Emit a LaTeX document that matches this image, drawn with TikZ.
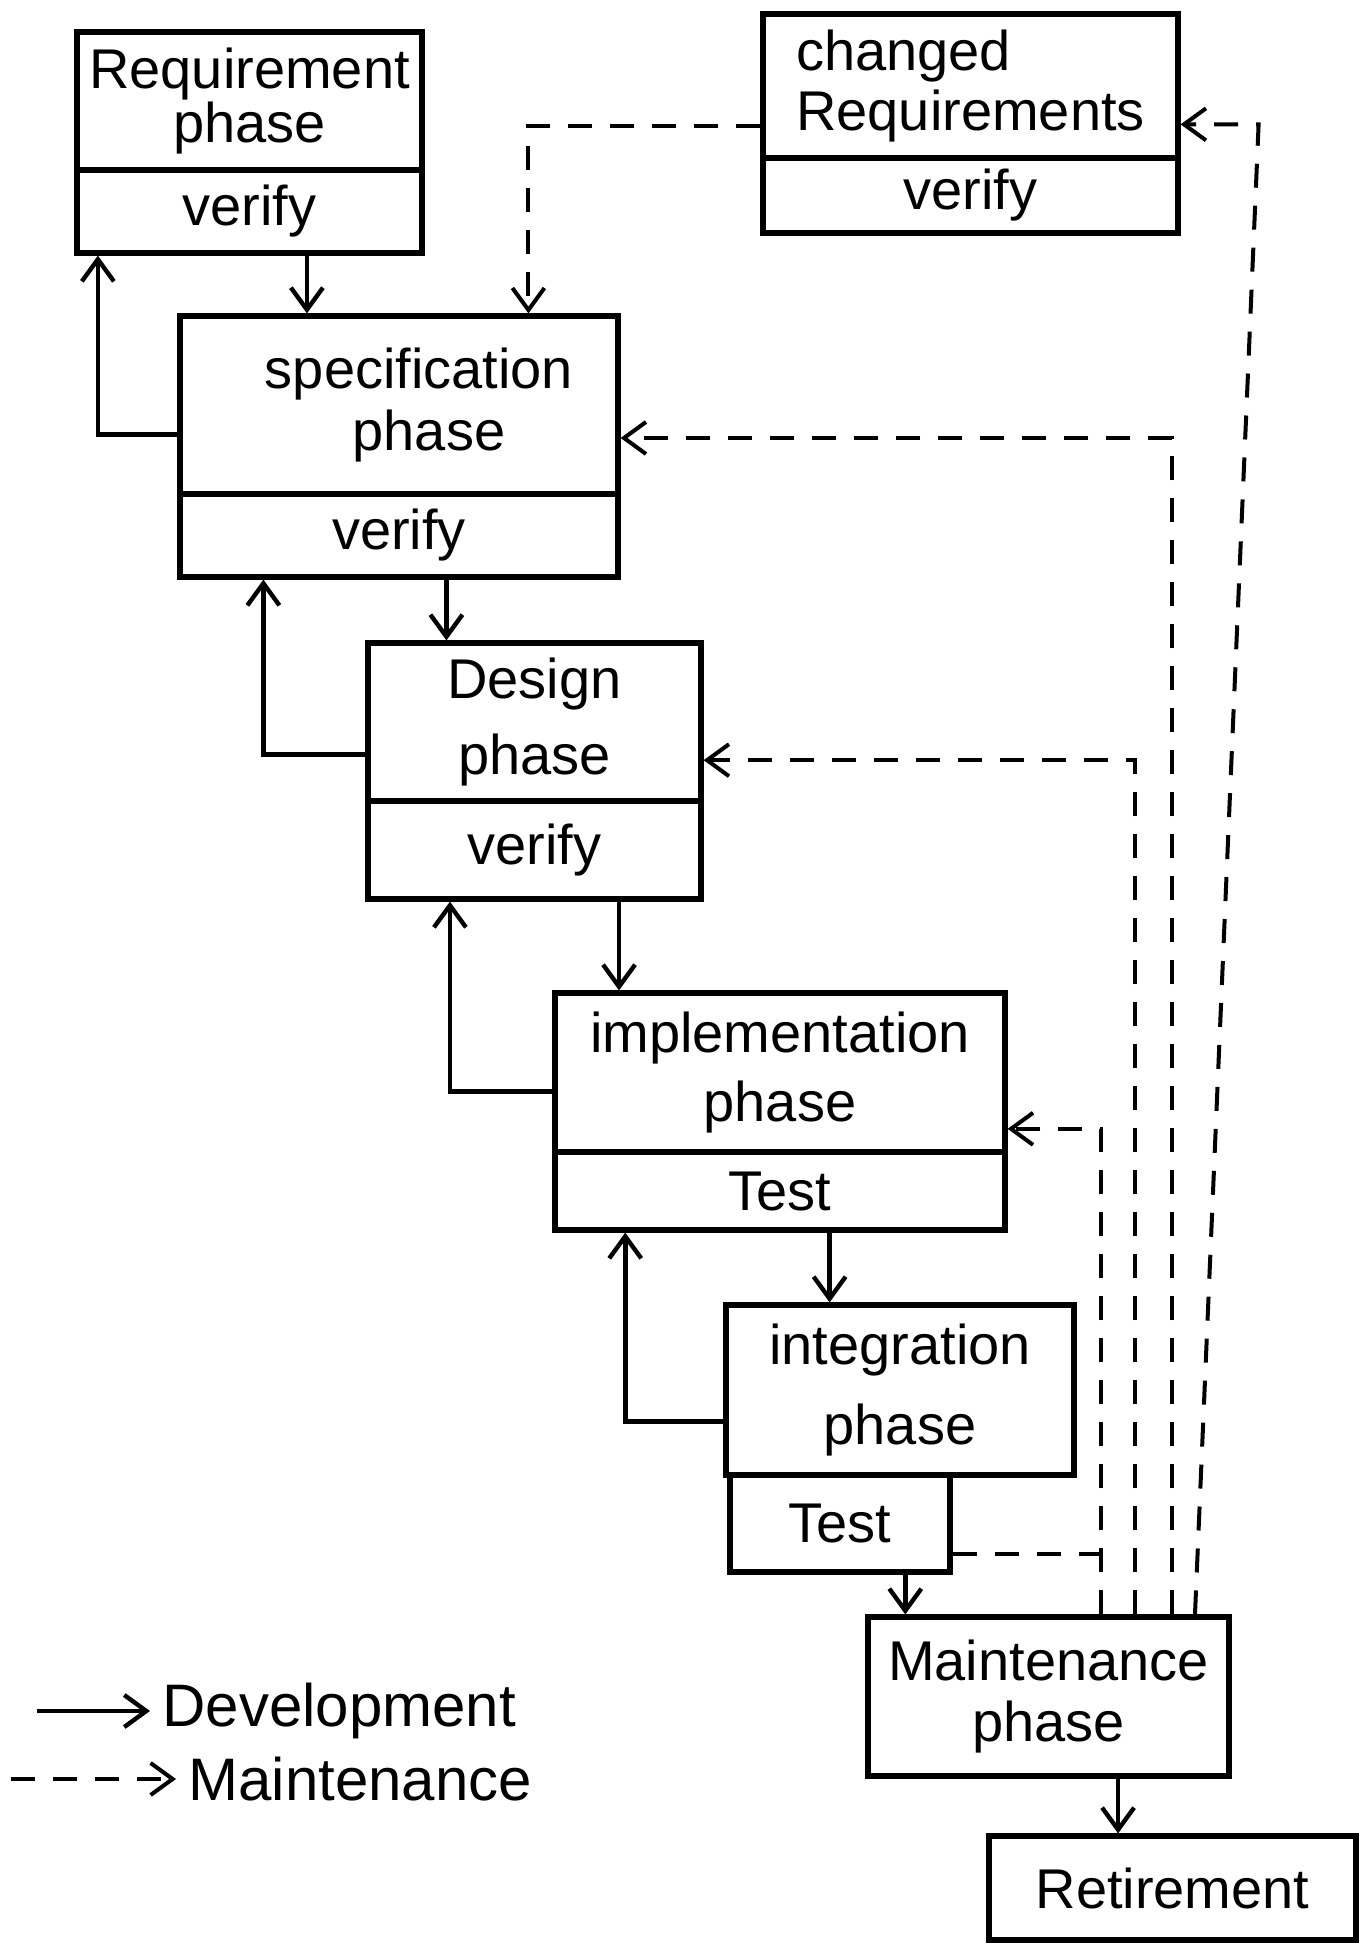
\documentclass[tikz,border=0pt]{standalone}
\usepackage{fontspec}
\setmainfont{Liberation Sans}
\usetikzlibrary{arrows.meta,calc}
\begin{document}
\begin{tikzpicture}[x=0.5pt,y=-0.5pt,
  box/.style={draw,line width=2.6pt,rectangle,inner sep=0pt,align=center,font=\fontsize{28}{26}\selectfont},
  legend/.style={inner sep=6pt,font=\fontsize{30}{32}\selectfont},
  dev/.style={line width=2.3pt,-{Straight Barb[length=11pt,width=16pt,line width=2.2pt]}},
  mnt/.style={line width=2pt,dash pattern=on 12pt off 9pt,-{Straight Barb[length=11pt,width=16pt,line width=2pt]}},
  mntplain/.style={line width=2pt,dash pattern=on 12pt off 9pt},
]
\useasboundingbox (0,0) rectangle (1360,1944);

% boxes
\node[box,minimum width=172.5pt,minimum height=69pt] (req) at (249.5,101) {Requirement\\phase};
\node[box,minimum width=172.5pt,minimum height=41.5pt] (reqv) at (249.5,211.5) {verify};
\node[box,minimum width=207.5pt,minimum height=72pt,align=left] (cr) at (970.5,86) {changed\\[3pt]Requirements};
\node[box,minimum width=207.5pt,minimum height=37.5pt] (crv) at (970.5,195.5) {verify};
\node[box,minimum width=219pt,minimum height=89pt] (spec) at (399,405) {\hspace*{20pt}specification\\[4pt]\hspace*{30pt}phase};
\node[box,minimum width=219pt,minimum height=41.5pt] (specv) at (399,535.5) {verify};
\node[box,minimum width=166.5pt,minimum height=79pt] (des) at (534.5,722) {Design\\[11pt]phase};
\node[box,minimum width=166.5pt,minimum height=49pt] (desv) at (534.5,850) {verify};
\node[box,minimum width=225pt,minimum height=79.5pt] (impl) at (780,1072.5) {implementation\\[7pt]phase};
\node[box,minimum width=225pt,minimum height=39pt] (implv) at (780,1191) {Test};
\node[box,minimum width=174pt,minimum height=85pt] (integ) at (900,1390) {integration\\[13pt]phase};
\node[box,minimum width=110pt,minimum height=48.5pt] (integv) at (840,1523.5) {Test};
\node[box,minimum width=180.5pt,minimum height=79.5pt] (maint) at (1048.5,1696.5) {Maintenance\\[5pt]phase};
\node[box,minimum width=183.5pt,minimum height=52pt] (ret) at (1172.5,1888) {Retirement};

% development arrows
\coordinate (a1) at ($(reqv.south west)!0.664!(reqv.south east)$);
\draw[dev] (a1) -- (a1 |- spec.north);
\coordinate (b1) at ($(spec.north west)!0.66!(spec.south west)$);
\coordinate (b2) at ($(reqv.south west)!0.067!(reqv.south east)$);
\draw[dev] (b1) -| (b2);

\coordinate (a2) at ($(specv.south west)!0.607!(specv.south east)$);
\draw[dev] (a2) -- (a2 |- des.north);
\coordinate (b3) at ($(des.north west)!0.70!(des.south west)$);
\coordinate (b4) at ($(specv.south west)!0.194!(specv.south east)$);
\draw[dev] (b3) -| (b4);

\coordinate (a3) at ($(desv.south west)!0.75!(desv.south east)$);
\draw[dev] (a3) -- (a3 |- impl.north);
\coordinate (b5) at ($(impl.north west)!0.616!(impl.south west)$);
\coordinate (b6) at ($(desv.south west)!0.25!(desv.south east)$);
\draw[dev] (b5) -| (b6);

\coordinate (a4) at ($(implv.south west)!0.609!(implv.south east)$);
\draw[dev] (a4) -- (a4 |- integ.north);
\coordinate (b7) at ($(integ.north west)!0.68!(integ.south west)$);
\coordinate (b8) at ($(implv.south west)!0.16!(implv.south east)$);
\draw[dev] (b7) -| (b8);

\coordinate (a5) at ($(integv.south west)!0.79!(integv.south east)$);
\draw[dev] (a5) -- (a5 |- maint.north);
\coordinate (a6) at ($(maint.south west)!0.69!(maint.south east)$);
\draw[dev] (a6) -- (a6 |- ret.north);

% maintenance arrows
\coordinate (m1) at ($(cr.north west)!0.77!(cr.south west)$);
\coordinate (m2) at ($(spec.north west)!0.792!(spec.north east)$);
\draw[mnt] (m1) -| (m2);

\coordinate (k1) at ($(maint.north west)!0.90!(maint.north east)$);
\coordinate (k1e) at ($(cr.north east)!0.757!(cr.south east)$);
\coordinate (k1t) at ($(k1e)+(78,0)$);
\draw[mnt] (k1) -- (k1t) -- (k1e);

\coordinate (k2) at ($(maint.north west)!0.837!(maint.north east)$);
\coordinate (k2e) at ($(spec.north east)!0.68!(spec.south east)$);
\draw[mnt] (k2) |- (k2e);

\coordinate (k3) at ($(maint.north west)!0.737!(maint.north east)$);
\coordinate (k3e) at ($(des.north east)!0.734!(des.south east)$);
\draw[mnt] (k3) |- (k3e);

\coordinate (k4) at ($(maint.north west)!0.643!(maint.north east)$);
\coordinate (k4e) at ($(impl.north east)!0.843!(impl.south east)$);
\draw[mnt] (k4) |- (k4e);

\coordinate (k5) at ($(integv.north east)!0.8!(integv.south east)$);
\draw[mntplain] (k5) -- (k5 -| k4);

% legend
\node[legend,anchor=west] (ldev) at (150,1711) {Development};
\coordinate (ld) at (37,1711);
\draw[dev] (ld) -- (ldev.west);
\node[legend,anchor=west] (lmnt) at (176,1779) {Maintenance};
\coordinate (lm) at (11,1779);
\draw[mnt] (lm) -- (lmnt.west);
\end{tikzpicture}
\end{document}
